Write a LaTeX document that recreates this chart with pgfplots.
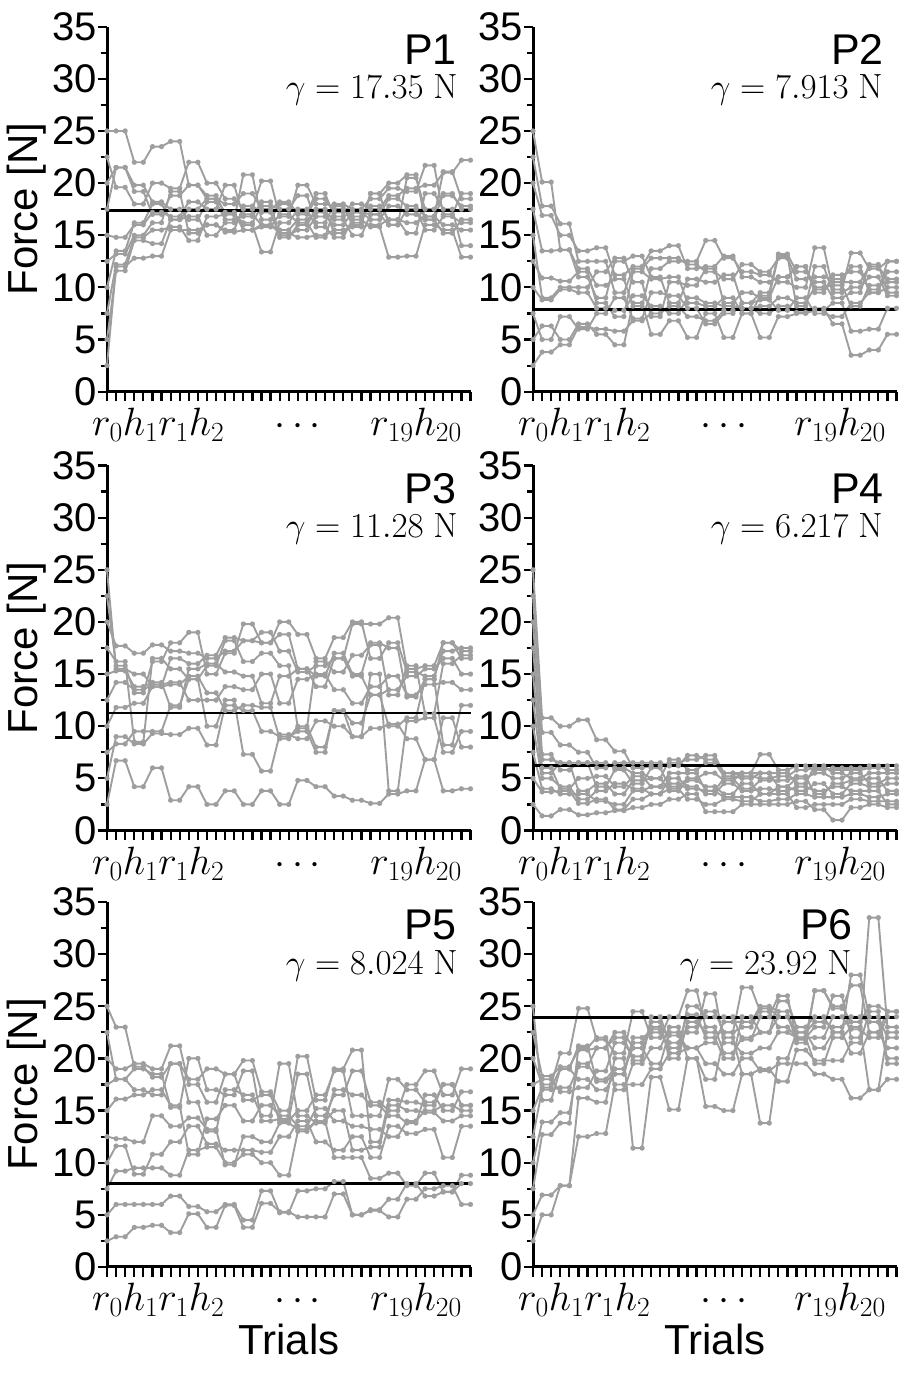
\RequirePackage{fix-cm}
\documentclass[border=0pt]{standalone}
\usepackage[no-math]{fontspec}
\setmainfont{Liberation Sans}
\usepackage{pgfplots}
\usepackage{pgfplotstable}
\pgfplotsset{compat=1.18}
\definecolor{lg}{RGB}{158,158,158}
\newcommand\tickf{\fontsize{40}{40}\selectfont}
\newcommand\labf{\fontsize{42}{42}\selectfont}
\newcommand\pf{\fontsize{43}{43}\selectfont}
\newcommand\gf{\fontsize{35}{35}\selectfont}
\newcommand\mf{\fontsize{39.5}{39.5}\selectfont}

\pgfplotsset{
 panel/.style={
  scale only axis, width=363.5pt, height=365pt, anchor=south west,
  xmin=0, xmax=40, ymin=0, ymax=35,
  axis lines=left, axis line style={-, line width=3pt, black},
  xtick={0,...,40}, xticklabels={},
  ytick={0,5,...,35}, minor ytick={2.5,7.5,...,32.5},
  tick align=outside, major tick length=9.5pt, minor tick length=6.5pt,
  every tick/.style={black, line width=2.2pt},
  /pgf/number format/assume math mode=true,
  yticklabel style={font=\tickf, inner sep=1pt, outer sep=0pt},
  clip=false,
 },
 gr/.style={color=lg, line width=1.9pt, line join=round, mark=*, mark size=2.5pt,
  mark options={solid, fill=lg, draw=lg, line width=0.1pt}},
 gam/.style={black, line width=2.7pt, no marks},
}

\pgfplotstableread{
x a b c d e f g h i j
0 2.5 5 7.5 10 12.5 15 17.5 20 22.5 25
1 12.0 11.6 12.2 13.5 13.2 14.8 21.5 21.5 19.6 25.0
2 12.0 11.6 12.2 13.5 13.2 14.8 21.5 21.5 19.6 25.0
3 12.8 14.5 14.8 16.2 15.0 16.0 19.2 19.8 18.0 22.0
4 12.8 14.5 14.8 16.2 15.0 16.0 19.2 19.8 18.0 22.0
5 13.0 14.2 15.5 18.0 16.2 17.2 17.0 18.2 20.0 23.5
6 13.0 14.2 15.5 18.0 16.2 17.2 17.0 18.2 20.0 23.5
7 15.5 16.5 15.8 16.5 19.2 16.8 18.8 17.5 19.5 24.0
8 15.5 16.5 15.8 16.5 19.2 16.8 18.8 17.5 19.5 24.0
9 15.5 16.8 14.5 17.5 15.2 18.2 19.8 16.5 22.0 19.8
10 15.5 16.8 14.5 17.5 15.2 18.2 19.8 16.5 22.0 19.8
11 16.0 15.0 16.8 18.5 16.0 17.5 18.8 18.2 20.0 18.5
12 16.0 15.0 16.8 18.5 16.0 17.5 18.8 18.2 20.0 18.5
13 15.3 16.2 17.0 17.2 15.5 19.8 17.0 16.5 18.5 18.0
14 15.3 16.2 17.0 17.2 15.5 19.8 17.0 16.5 18.5 18.0
15 15.5 17.0 16.0 15.5 17.8 16.8 16.2 20.8 17.5 19.0
16 15.5 17.0 16.0 15.5 17.8 16.8 16.2 20.8 17.5 19.0
17 16.0 16.0 13.4 15.8 17.2 18.2 17.8 16.5 20.2 17.5
18 16.0 16.0 13.4 15.8 17.2 18.2 17.8 16.5 20.2 17.5
19 15.2 15.5 16.2 17.0 15.0 14.8 17.5 18.0 16.8 18.2
20 15.2 15.5 16.2 17.0 15.0 14.8 17.5 18.0 16.8 18.2
21 14.8 16.5 17.5 16.2 15.5 16.0 18.8 17.2 19.8 17.0
22 14.8 16.5 17.5 16.2 15.5 16.0 18.8 17.2 19.8 17.0
23 15.0 17.2 15.8 14.8 16.8 17.5 16.2 19.0 18.0 18.5
24 15.0 17.2 15.8 14.8 16.8 17.5 16.2 19.0 18.0 18.5
25 15.5 16.5 14.8 17.5 16.0 15.2 18.0 16.8 17.8 17.2
26 15.5 16.5 14.8 17.5 16.0 15.2 18.0 16.8 17.8 17.2
27 15.8 15.0 16.5 16.8 17.2 16.2 17.5 17.2 16.0 18.0
28 15.8 15.0 16.5 16.8 17.2 16.2 17.5 17.2 16.0 18.0
29 16.0 17.0 15.8 17.8 16.5 19.0 18.5 17.0 19.0 17.5
30 16.0 17.0 15.8 17.8 16.5 19.0 18.5 17.0 19.0 17.5
31 16.5 16.0 12.9 16.5 17.8 16.0 19.5 18.5 20.0 18.8
32 16.5 16.0 12.9 16.5 17.8 16.0 19.5 18.5 20.0 18.8
33 16.2 17.5 13.0 15.2 17.0 20.5 19.2 17.8 20.8 19.5
34 16.2 17.5 13.0 15.2 17.0 20.5 19.2 17.8 20.8 19.5
35 16.8 15.5 16.0 19.0 16.5 17.5 21.7 16.8 16.5 19.8
36 16.8 15.5 16.0 19.0 16.5 17.5 21.7 16.8 16.5 19.8
37 16.0 16.8 15.5 17.5 15.2 18.8 17.0 21.1 19.0 21.0
38 16.0 16.8 15.5 17.5 15.2 18.8 17.0 21.1 19.0 21.0
39 15.5 16.2 12.9 14.0 16.5 17.8 19.0 18.5 17.5 22.2
40 15.5 16.2 12.9 14.0 16.5 17.8 19.0 18.5 17.5 22.2
}\PA

\pgfplotstableread{
x a b c d e f g h i j
0 2.5 5 7.5 10 12.5 15 17.5 20 22.5 25
1 3.8 6.3 5.0 8.8 10.9 9.0 13.5 16.9 17.8 20.1
2 3.8 6.3 5.0 8.8 10.9 9.0 13.5 16.9 17.8 20.1
3 4.5 5.0 7.2 9.8 10.6 10.0 13.6 15.0 16.1 13.6
4 4.5 5.0 7.2 9.8 10.6 10.0 13.6 15.0 16.1 13.6
5 6.2 6.5 6.0 9.5 11.5 10.0 11.8 13.5 12.5 11.0
6 6.2 6.5 6.0 9.5 11.5 10.0 11.8 13.5 12.5 11.0
7 6.0 5.5 7.5 8.0 8.5 11.5 10.2 13.8 12.5 9.0
8 6.0 5.5 7.5 8.0 8.5 11.5 10.2 13.8 12.5 9.0
9 5.8 4.5 9.0 7.8 7.2 12.8 10.8 11.2 9.5 12.5
10 5.8 4.5 9.0 7.8 7.2 12.8 10.8 11.2 9.5 12.5
11 6.8 8.5 7.0 9.2 11.5 10.5 8.2 12.0 11.8 13.0
12 6.8 8.5 7.0 9.2 11.5 10.5 8.2 12.0 11.8 13.0
13 7.5 5.5 9.5 8.2 10.8 7.2 11.8 13.5 12.8 11.0
14 7.5 5.5 9.5 8.2 10.8 7.2 11.8 13.5 12.8 11.0
15 8.2 6.8 9.2 7.5 11.0 10.5 12.5 14.0 12.8 8.5
16 8.2 6.8 9.2 7.5 11.0 10.5 12.5 14.0 12.8 8.5
17 7.2 5.2 8.0 9.0 8.5 10.2 12.5 11.8 12.2 10.8
18 7.2 5.2 8.0 9.0 8.5 10.2 12.5 11.8 12.2 10.8
19 6.8 7.5 6.5 8.5 8.2 11.8 14.5 12.0 11.5 10.5
20 6.8 7.5 6.5 8.5 8.2 11.8 14.5 12.0 11.5 10.5
21 7.8 5.2 7.5 8.2 9.0 8.5 12.8 13.0 10.8 11.2
22 7.8 5.2 7.5 8.2 9.0 8.5 12.8 13.0 10.8 11.2
23 8.0 7.5 8.5 8.0 7.5 9.5 11.5 11.0 12.2 8.5
24 8.0 7.5 8.5 8.0 7.5 9.5 11.5 11.0 12.2 8.5
25 7.5 5.2 8.8 8.2 9.2 9.0 11.2 10.5 11.5 9.5
26 7.5 5.2 8.8 8.2 9.2 9.0 11.2 10.5 11.5 9.5
27 8.2 7.2 7.8 9.0 13.0 11.0 10.5 11.0 12.8 13.2
28 8.2 7.2 7.8 9.0 13.0 11.0 10.5 11.0 12.8 13.2
29 7.6 7.5 9.0 8.5 8.2 12.0 10.0 12.0 10.8 11.5
30 7.6 7.5 9.0 8.5 8.2 12.0 10.0 12.0 10.8 11.5
31 8.0 7.8 7.5 10.0 12.0 9.5 13.8 9.8 11.0 10.5
32 8.0 7.8 7.5 10.0 12.0 9.5 13.8 9.8 11.0 10.5
33 6.5 8.5 7.2 10.2 9.5 11.2 9.8 10.5 10.8 9.0
34 6.5 8.5 7.2 10.2 9.5 11.2 9.8 10.5 10.8 9.0
35 3.5 5.8 8.5 8.2 10.0 11.5 13.3 10.5 12.0 9.5
36 3.5 5.8 8.5 8.2 10.0 11.5 13.3 10.5 12.0 9.5
37 4.0 6.0 9.5 10.2 11.0 9.8 11.8 12.0 9.5 12.2
38 4.0 6.0 9.5 10.2 11.0 9.8 11.8 12.0 9.5 12.2
39 5.5 8.0 10.0 10.5 9.2 11.5 12.5 10.8 12.5 9.5
40 5.5 8.0 10.0 10.5 9.2 11.5 12.5 10.8 12.5 9.5
}\PB

\pgfplotstableread{
x a b c d e f g h i j
0 2.5 5 7.5 10 12.5 15 17.5 20 22.5 25
1 6.7 9.0 8.3 11.8 14.2 15.3 16.2 17.7 15.8 15.5
2 6.7 9.0 8.3 11.8 14.2 15.3 16.2 17.7 15.8 15.5
3 4.2 8.3 9.5 12.2 13.5 13.8 8.5 17.0 13.2 15.0
4 4.2 8.3 9.5 12.2 13.5 13.8 8.5 17.0 13.2 15.0
5 6.0 9.3 9.5 13.8 14.0 14.2 16.5 17.8 16.2 13.8
6 6.0 9.3 9.5 13.8 14.0 14.2 16.5 17.8 16.2 13.8
7 2.9 9.2 12.0 14.0 14.2 11.8 15.5 17.2 18.0 16.5
8 2.9 9.2 12.0 14.0 14.2 11.8 15.5 17.2 18.0 16.5
9 4.2 9.8 14.5 14.8 12.5 15.5 14.5 17.0 19.0 16.0
10 4.2 9.8 14.5 14.8 12.5 15.5 14.5 17.0 19.0 16.0
11 2.5 8.2 10.0 13.2 12.5 16.0 15.8 16.5 15.0 16.8
12 2.5 8.2 10.0 13.2 12.5 16.0 15.8 16.5 15.0 16.8
13 3.8 12.0 12.5 11.5 13.8 15.2 18.2 17.2 17.0 18.5
14 3.8 12.0 12.5 11.5 13.8 15.2 18.2 17.2 17.0 18.5
15 2.5 11.5 7.3 12.0 13.5 14.8 16.2 18.2 19.8 18.2
16 2.5 11.5 7.3 12.0 13.5 14.8 16.2 18.2 19.8 18.2
17 3.8 9.5 5.7 11.8 15.0 12.2 17.0 18.0 18.0 19.0
18 3.8 9.5 5.7 11.8 15.0 12.2 17.0 18.0 18.0 19.0
19 2.5 9.0 9.2 8.8 12.2 14.8 15.8 18.8 20.0 17.2
20 2.5 9.0 9.2 8.8 12.2 14.8 15.8 18.8 20.0 17.2
21 4.8 9.5 8.8 10.0 14.5 15.5 9.8 15.5 18.8 15.2
22 4.8 9.5 8.8 10.0 14.5 15.5 9.8 15.5 18.8 15.2
23 4.2 7.5 10.5 8.0 15.0 13.8 16.2 14.8 16.5 15.8
24 4.2 7.5 10.5 8.0 15.0 13.8 16.2 14.8 16.5 15.8
25 3.3 11.5 10.0 11.5 13.5 16.5 15.2 17.0 18.5 16.5
26 3.3 11.5 10.0 11.5 13.5 16.5 15.2 17.0 18.5 16.5
27 2.9 9.0 9.0 10.3 12.2 14.8 16.8 15.0 20.0 19.8
28 2.9 9.0 9.0 10.3 12.2 14.8 16.8 15.0 20.0 19.8
29 2.6 9.8 15.0 13.0 13.8 13.0 17.8 18.0 16.5 19.8
30 2.6 9.8 15.0 13.0 13.8 13.0 17.8 18.0 16.5 19.8
31 3.5 10.2 3.8 10.0 14.8 13.5 13.0 17.5 18.0 20.4
32 3.5 10.2 3.8 10.0 14.8 13.5 13.0 17.5 18.0 20.4
33 3.8 8.8 10.5 10.8 13.0 14.8 15.8 12.8 15.2 15.5
34 3.8 8.8 10.5 10.8 13.0 14.8 15.8 12.8 15.2 15.5
35 6.8 6.8 10.8 14.5 14.0 15.5 11.2 14.5 14.8 15.8
36 6.8 6.8 10.8 14.5 14.0 15.5 11.2 14.5 14.8 15.8
37 3.8 10.8 7.5 8.2 14.2 16.5 16.0 18.0 17.2 18.0
38 3.8 10.8 7.5 8.2 14.2 16.5 16.0 18.0 17.2 18.0
39 4.0 8.0 9.5 12.0 13.5 15.0 16.8 17.2 17.5 16.5
40 4.0 8.0 9.5 12.0 13.5 15.0 16.8 17.2 17.5 16.5
}\PC

\pgfplotstableread{
x a b c d e f g h i j
0 2.5 5 7.5 10 12.5 15 17.5 20 22.5 25
1 1.4 3.7 4.0 5.0 5.5 6.0 6.8 7.3 9.4 10.8
2 1.4 3.7 4.0 5.0 5.5 6.0 6.8 7.3 9.4 10.8
3 2.0 3.8 3.5 4.2 6.5 4.0 6.5 5.8 8.2 10.0
4 2.0 3.8 3.5 4.2 6.5 4.0 6.5 5.8 8.2 10.0
5 1.5 2.6 3.5 3.0 3.8 5.0 6.5 6.5 7.5 10.6
6 1.5 2.6 3.5 3.0 3.8 5.0 6.5 6.5 7.5 10.6
7 1.7 3.0 2.8 3.8 4.5 5.2 4.2 6.5 6.0 8.7
8 1.7 3.0 2.8 3.8 4.5 5.2 4.2 6.5 6.0 8.7
9 1.9 2.0 2.5 4.5 3.5 4.2 5.8 6.0 6.5 7.6
10 1.9 2.0 2.5 4.5 3.5 4.2 5.8 6.0 6.5 7.6
11 2.2 3.0 3.8 4.0 4.8 5.2 4.5 5.5 6.5 6.0
12 2.2 3.0 3.8 4.0 4.8 5.2 4.5 5.5 6.5 6.0
13 2.5 3.5 4.2 3.5 5.0 4.2 6.0 5.0 6.5 6.2
14 2.5 3.5 4.2 3.5 5.0 4.2 6.0 5.0 6.5 6.2
15 3.0 4.0 4.5 5.0 3.8 5.5 4.2 6.8 6.2 6.5
16 3.0 4.0 4.5 5.0 3.8 5.5 4.2 6.8 6.2 6.5
17 3.5 3.0 4.0 4.2 4.8 5.5 5.0 5.8 7.2 6.8
18 3.5 3.0 4.0 4.2 4.8 5.5 5.0 5.8 7.2 6.8
19 1.8 2.5 3.8 3.5 4.2 3.8 5.5 6.5 6.8 7.2
20 1.8 2.5 3.8 3.5 4.2 3.8 5.5 6.5 6.8 7.2
21 1.8 3.0 3.2 4.5 3.5 5.0 4.8 5.2 5.5 5.5
22 1.8 3.0 3.2 4.5 3.5 5.0 4.8 5.2 5.5 5.5
23 2.5 2.8 3.2 3.8 4.5 4.0 5.5 5.0 5.5 5.2
24 2.5 2.8 3.2 3.8 4.5 4.0 5.5 5.0 5.5 5.2
25 2.5 3.5 2.8 4.0 3.5 4.8 5.5 5.5 7.3 5.0
26 2.5 3.5 2.8 4.0 3.5 4.8 5.5 5.5 7.3 5.0
27 2.5 3.5 3.0 3.8 4.2 4.8 4.2 5.5 5.8 5.2
28 2.5 3.5 3.0 3.8 4.2 4.8 4.2 5.5 5.8 5.2
29 2.8 2.2 3.5 4.2 3.8 5.2 5.0 4.5 6.2 5.8
30 2.8 2.2 3.5 4.2 3.8 5.2 5.0 4.5 6.2 5.8
31 2.0 2.5 3.2 3.8 4.5 3.5 5.5 6.2 5.8 6.0
32 2.0 2.5 3.2 3.8 4.5 3.5 5.5 6.2 5.8 6.0
33 1.0 2.5 3.2 4.2 3.5 4.5 5.0 5.5 6.0 5.8
34 1.0 2.5 3.2 4.2 3.5 4.5 5.0 5.5 6.0 5.8
35 2.2 3.0 3.5 3.8 4.5 4.8 5.5 5.0 6.0 5.8
36 2.2 3.0 3.5 3.8 4.5 4.8 5.5 5.0 6.0 5.8
37 2.5 2.8 3.2 3.8 4.2 5.0 4.5 5.5 6.2 6.0
38 2.5 2.8 3.2 3.8 4.2 5.0 4.5 5.5 6.2 6.0
39 2.2 2.8 3.5 2.5 4.5 3.8 5.0 5.5 5.8 6.2
40 2.2 2.8 3.5 2.5 4.5 3.8 5.0 5.5 5.8 6.2
}\PD

\pgfplotstableread{
x a b c d e f g h i j
0 2.5 5 7.5 10 12.5 15 17.5 20 22.5 25
1 2.9 6.0 9.2 11.6 12.3 16.1 18.0 19.0 18.0 23.0
2 2.9 6.0 9.2 11.6 12.3 16.1 18.0 19.0 18.0 23.0
3 3.8 6.0 9.5 8.9 12.0 16.5 17.0 19.5 19.0 19.2
4 3.8 6.0 9.5 8.9 12.0 16.5 17.0 19.5 19.0 19.2
5 4.0 6.0 9.5 10.8 14.5 17.0 16.5 19.0 18.5 18.2
6 4.0 6.0 9.5 10.8 14.5 17.0 16.5 19.0 18.5 18.2
7 3.3 6.8 8.8 12.0 13.5 15.5 19.5 21.2 15.3 19.5
8 3.3 6.8 8.8 12.0 13.5 15.5 19.5 21.2 15.3 19.5
9 5.1 5.8 11.2 13.5 14.3 10.8 15.8 17.5 20.0 18.0
10 5.1 5.8 11.2 13.5 14.3 10.8 15.8 17.5 20.0 18.0
11 3.8 5.3 11.5 11.8 13.2 14.2 13.0 15.8 17.0 19.0
12 3.8 5.3 11.5 11.8 13.2 14.2 13.0 15.8 17.0 19.0
13 5.9 6.0 10.0 11.2 9.8 15.5 17.0 18.5 16.5 18.5
14 5.9 6.0 10.0 11.2 9.8 15.5 17.0 18.5 16.5 18.5
15 3.8 4.5 10.8 11.2 12.5 14.0 16.5 19.8 18.8 16.0
16 3.8 4.5 10.8 11.2 12.5 14.0 16.5 19.8 18.8 16.0
17 6.1 7.3 10.0 11.0 12.0 15.5 14.5 16.8 14.0 16.5
18 6.1 7.3 10.0 11.0 12.0 15.5 14.5 16.8 14.0 16.5
19 5.3 5.2 8.8 12.5 13.8 14.5 19.5 15.0 14.2 14.0
20 5.3 5.2 8.8 12.5 13.8 14.5 19.5 15.0 14.2 14.0
21 4.8 7.3 13.0 14.0 13.2 13.5 14.5 20.2 18.5 15.0
22 4.8 7.3 13.0 14.0 13.2 13.5 14.5 20.2 18.5 15.0
23 4.8 7.5 14.0 12.0 14.0 15.2 13.8 16.0 14.5 16.5
24 4.8 7.5 14.0 12.0 14.0 15.2 13.8 16.0 14.5 16.5
25 7.0 8.2 10.5 11.2 15.0 14.0 17.0 19.0 16.5 18.8
26 7.0 8.2 10.5 11.2 15.0 14.0 17.0 19.0 16.5 18.8
27 5.0 5.0 10.5 12.5 11.2 13.5 16.5 20.8 18.8 14.5
28 5.0 5.0 10.5 12.5 11.2 13.5 16.5 20.8 18.8 14.5
29 5.4 5.5 8.5 10.5 11.5 13.2 15.5 12.0 15.8 14.5
30 5.4 5.5 8.5 10.5 11.5 13.2 15.5 12.0 15.8 14.5
31 4.8 6.5 9.0 13.5 15.5 12.5 14.5 16.0 15.0 18.0
32 4.8 6.5 9.0 13.5 15.5 12.5 14.5 16.0 15.0 18.0
33 6.5 8.0 7.8 12.8 15.0 14.0 13.8 15.8 17.5 17.0
34 6.5 8.0 7.8 12.8 15.0 14.0 13.8 15.8 17.5 17.0
35 7.5 6.8 9.0 13.2 14.8 15.0 16.5 15.5 18.8 15.8
36 7.5 6.8 9.0 13.2 14.8 15.0 16.5 15.5 18.8 15.8
37 7.8 7.2 7.2 10.5 14.0 15.5 15.0 17.5 16.5 17.5
38 7.8 7.2 7.2 10.5 14.0 15.5 15.0 17.5 16.5 17.5
39 6.0 8.8 8.0 13.5 14.5 15.0 16.8 15.5 19.0 15.5
40 6.0 8.8 8.0 13.5 14.5 15.0 16.8 15.5 19.0 15.5
}\PE

\pgfplotstableread{
x a b c d e f g h i j
0 2.5 5 7.5 10 12.5 15 17.5 20 22.5 25
1 5.0 6.9 12.7 13.9 17.0 17.2 18.0 17.5 18.3 16.0
2 5.0 6.9 12.7 13.9 17.0 17.2 18.0 17.5 18.3 16.0
3 7.8 7.8 13.8 14.8 17.2 19.0 16.8 20.5 19.2 19.0
4 7.8 7.8 13.8 14.8 17.2 19.0 16.8 20.5 19.2 19.0
5 12.5 16.2 21.0 19.5 19.2 21.2 17.2 24.8 20.8 18.0
6 12.5 16.2 21.0 19.5 19.2 21.2 17.2 24.8 20.8 18.0
7 12.8 15.8 22.0 18.0 21.0 17.8 18.8 21.8 21.0 17.0
8 12.8 15.8 22.0 18.0 21.0 17.8 18.8 21.8 21.0 17.0
9 17.5 20.0 17.0 19.0 22.0 18.5 21.5 20.5 22.5 18.5
10 17.5 20.0 17.0 19.0 22.0 18.5 21.5 20.5 22.5 18.5
11 17.5 11.4 19.5 21.0 19.8 21.5 20.2 24.5 21.0 22.0
12 17.5 11.4 19.5 21.0 19.8 21.5 20.2 24.5 21.0 22.0
13 19.0 18.2 21.0 19.5 24.0 23.0 23.5 22.0 22.8 22.5
14 19.0 18.2 21.0 19.5 24.0 23.0 23.5 22.0 22.8 22.5
15 20.5 15.1 23.0 22.5 21.5 20.5 20.0 24.0 22.2 21.0
16 20.5 15.1 23.0 22.5 21.5 20.5 20.0 24.0 22.2 21.0
17 21.0 20.0 20.0 22.5 24.2 25.0 23.5 26.5 21.0 23.0
18 21.0 20.0 20.0 22.5 24.2 25.0 23.5 26.5 21.0 23.0
19 19.5 18.0 15.4 26.2 22.0 24.0 22.5 23.0 21.5 24.5
20 19.5 18.0 15.4 26.2 22.0 24.0 22.5 23.0 21.5 24.5
21 18.5 22.0 15.0 21.5 20.0 24.0 22.5 20.5 23.5 22.5
22 18.5 22.0 15.0 21.5 20.0 24.0 22.5 20.5 23.5 22.5
23 20.0 18.5 18.5 20.5 24.0 21.8 26.8 22.0 23.5 23.0
24 20.0 18.5 18.5 20.5 24.0 21.8 26.8 22.0 23.5 23.0
25 18.8 19.0 13.8 21.0 22.5 24.0 24.5 22.5 25.0 24.8
26 18.8 19.0 13.8 21.0 22.5 24.0 24.5 22.5 25.0 24.8
27 19.5 17.8 20.0 22.5 24.0 26.0 23.0 25.5 24.5 24.0
28 19.5 17.8 20.0 22.5 24.0 26.0 23.0 25.5 24.5 24.0
29 19.5 20.8 22.5 22.0 22.5 21.8 22.0 23.0 21.5 22.0
30 19.5 20.8 22.5 22.0 22.5 21.8 22.0 23.0 21.5 22.0
31 18.5 19.8 21.0 19.5 23.5 26.5 23.0 24.0 26.5 22.0
32 18.5 19.8 21.0 19.5 23.5 26.5 23.0 24.0 26.5 22.0
33 18.0 19.8 22.5 22.0 23.0 24.8 26.0 22.5 25.0 24.0
34 18.0 19.8 22.5 22.0 23.0 24.8 26.0 22.5 25.0 24.0
35 16.2 21.5 20.5 23.0 24.0 27.0 22.0 28.0 23.5 22.8
36 16.2 21.5 20.5 23.0 24.0 27.0 22.0 28.0 23.5 22.8
37 17.0 24.5 22.5 17.0 23.5 22.5 33.5 24.0 25.0 22.0
38 17.0 24.5 22.5 17.0 23.5 22.5 33.5 24.0 25.0 22.0
39 18.0 19.5 21.0 22.5 20.0 24.5 23.0 22.0 24.5 24.0
40 18.0 19.5 21.0 22.5 20.0 24.5 23.0 22.0 24.5 24.0
}\PF

\begin{document}
\begin{tikzpicture}
\useasboundingbox (0,0) rectangle (900pt,1380pt);

\begin{axis}[panel, at={(107pt,988.3pt)}]
\pgfplotsinvokeforeach{a,b,c,d,e,f,g,h,i,j}{\addplot[gr] table[x=x,y=#1]{\PA};}
\addplot[gam] coordinates {(0,17.35) (40,17.35)};
\end{axis}
\begin{axis}[panel, at={(533pt,988.3pt)}]
\pgfplotsinvokeforeach{a,b,c,d,e,f,g,h,i,j}{\addplot[gr] table[x=x,y=#1]{\PB};}
\addplot[gam] coordinates {(0,7.913) (40,7.913)};
\end{axis}
\begin{axis}[panel, at={(107pt,549.5pt)}]
\pgfplotsinvokeforeach{a,b,c,d,e,f,g,h,i,j}{\addplot[gr] table[x=x,y=#1]{\PC};}
\addplot[gam] coordinates {(0,11.28) (40,11.28)};
\end{axis}
\begin{axis}[panel, at={(533pt,549.5pt)}]
\pgfplotsinvokeforeach{a,b,c,d,e,f,g,h,i,j}{\addplot[gr] table[x=x,y=#1]{\PD};}
\addplot[gam] coordinates {(0,6.217) (40,6.217)};
\end{axis}
\begin{axis}[panel, at={(107pt,113pt)}]
\pgfplotsinvokeforeach{a,b,c,d,e,f,g,h,i,j}{\addplot[gr] table[x=x,y=#1]{\PE};}
\addplot[gam] coordinates {(0,8.024) (40,8.024)};
\end{axis}
\begin{axis}[panel, at={(533pt,113pt)}]
\pgfplotsinvokeforeach{a,b,c,d,e,f,g,h,i,j}{\addplot[gr] table[x=x,y=#1]{\PF};}
\addplot[gam] coordinates {(0,23.92) (40,23.92)};
\end{axis}

% x tick labels
\foreach \X/\Y in {92/944.3, 518/944.3, 92/505.5, 518/505.5, 92/69, 518/69}{
  \node[anchor=base west, inner sep=0pt, font=\mf] at (\X pt,\Y pt) {$r_0h_1r_1h_2$};
}
\foreach \X/\Y in {298/944.3, 724/944.3, 298/505.5, 724/505.5, 298/69, 724/69}{
  \node[anchor=base, inner sep=0pt, font=\mf] at (\X pt,\Y pt) {$\cdots$};
}
\foreach \X/\Y in {462/944.3, 886/944.3, 462/505.5, 886/505.5, 462/69, 886/69}{
  \node[anchor=base east, inner sep=0pt, font=\mf] at (\X pt,\Y pt) {$r_{19}h_{20}$};
}

% panel names
\node[anchor=base east, inner sep=0pt, font=\pf] at (457pt,1315.3pt) {P1};
\node[anchor=base east, inner sep=0pt, font=\pf] at (884pt,1315.3pt) {P2};
\node[anchor=base east, inner sep=0pt, font=\pf] at (457pt,876.5pt) {P3};
\node[anchor=base east, inner sep=0pt, font=\pf] at (884pt,876.5pt) {P4};
\node[anchor=base east, inner sep=0pt, font=\pf] at (457pt,440pt) {P5};
\node[anchor=base east, inner sep=0pt, font=\pf] at (853pt,440pt) {P6};

% gamma values
\node[anchor=base east, inner sep=0pt, font=\gf] at (458pt,1281.5pt) {$\gamma = 17.35\ \mathrm{N}$};
\node[anchor=base east, inner sep=0pt, font=\gf] at (883pt,1281.5pt) {$\gamma = 7.913\ \mathrm{N}$};
\node[anchor=base east, inner sep=0pt, font=\gf] at (458pt,842pt) {$\gamma = 11.28\ \mathrm{N}$};
\node[anchor=base east, inner sep=0pt, font=\gf] at (883pt,842pt) {$\gamma = 6.217\ \mathrm{N}$};
\node[anchor=base east, inner sep=0pt, font=\gf] at (458pt,405.5pt) {$\gamma = 8.024\ \mathrm{N}$};
\node[anchor=base east, inner sep=0pt, font=\gf] at (852pt,405.5pt) {$\gamma = 23.92\ \mathrm{N}$};

% axis titles
\node[anchor=base, rotate=90, inner sep=0pt, font=\labf] at (37pt,1171pt) {Force [N]};
\node[anchor=base, rotate=90, inner sep=0pt, font=\labf] at (37pt,732pt) {Force [N]};
\node[anchor=base, rotate=90, inner sep=0pt, font=\labf] at (37pt,295.5pt) {Force [N]};
\node[anchor=base, inner sep=0pt, font=\labf] at (289pt,25pt) {Trials};
\node[anchor=base, inner sep=0pt, font=\labf] at (715pt,25pt) {Trials};
\end{tikzpicture}
\end{document}
